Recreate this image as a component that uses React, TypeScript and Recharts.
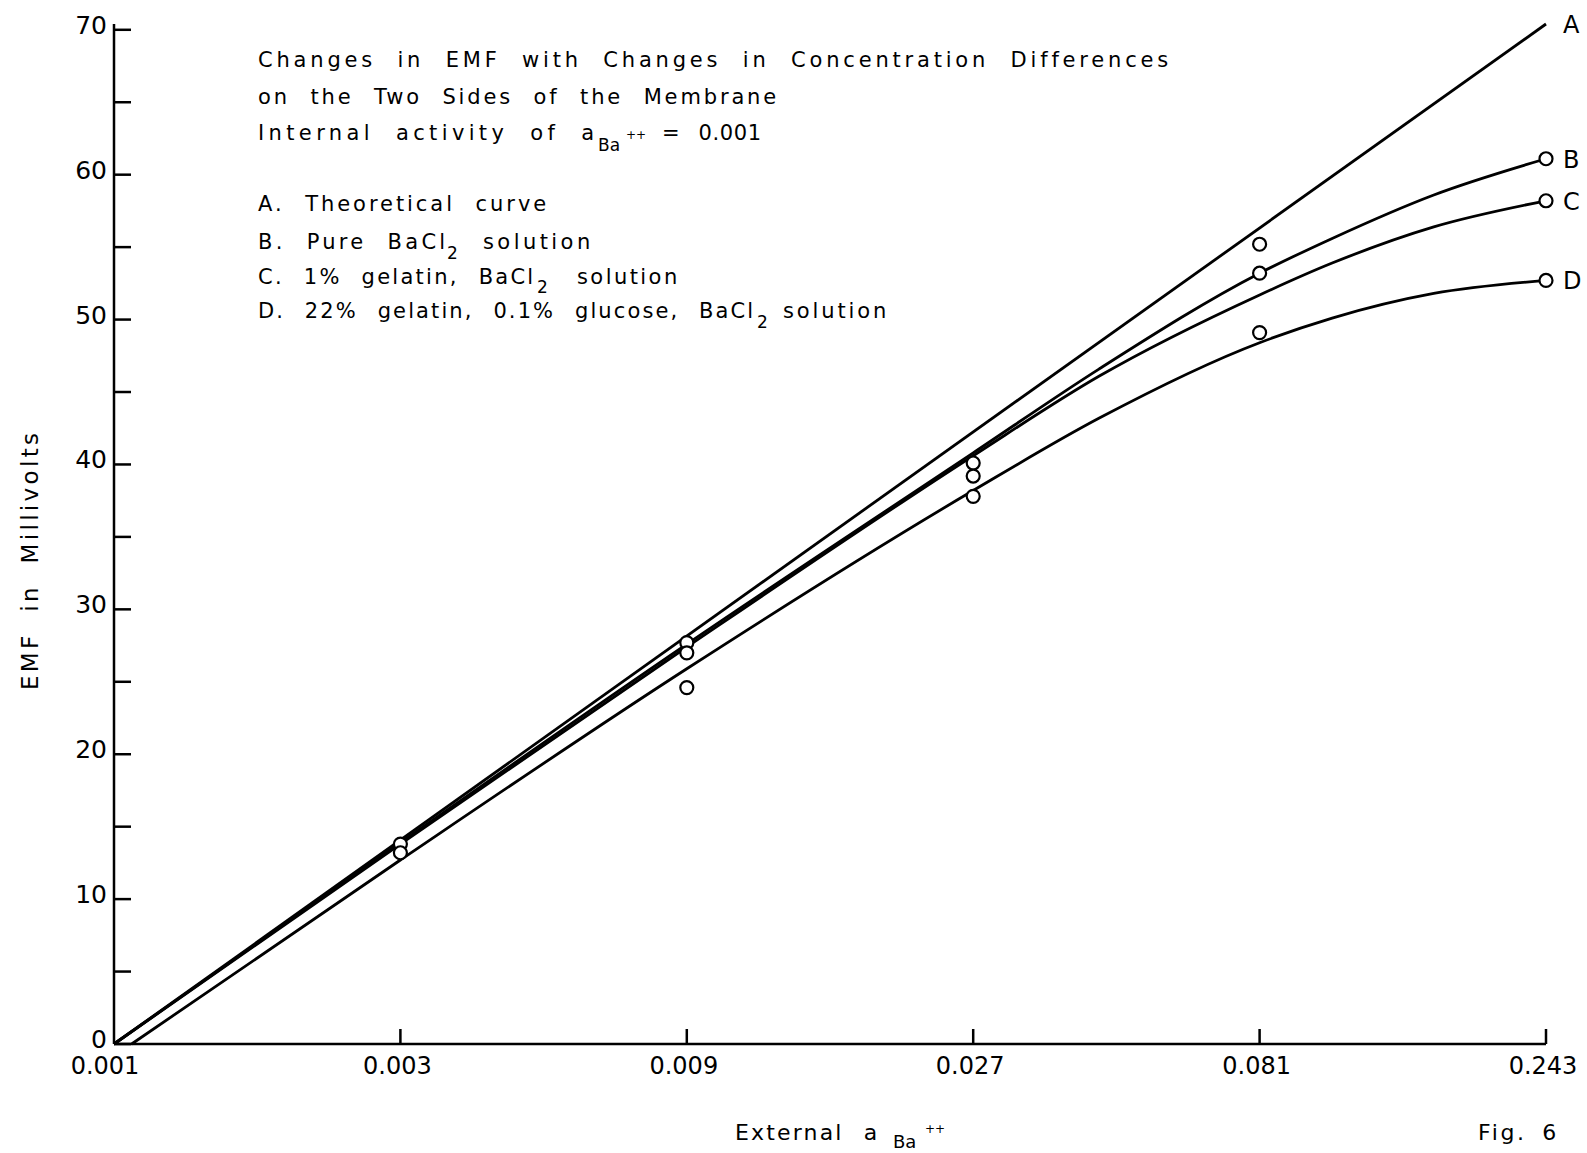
import React from 'react';
import { ComposedChart, Line, Scatter, XAxis, YAxis } from 'recharts';

// x: external activity of Ba++ (log axis), y: EMF in mV
const xTicks = [0.001, 0.003, 0.009, 0.027, 0.081, 0.243];
const yTicks = [0, 5, 10, 15, 20, 25, 30, 35, 40, 45, 50, 55, 60, 65, 70];

const curveA = [
  { x: 0.001, y: 0 },
  { x: 0.243, y: 70.4 },
];

const curveB = [
  { x: 0.001, y: 0 },
  { x: 0.003, y: 13.9 },
  { x: 0.009, y: 27.6 },
  { x: 0.027, y: 40.8 },
  { x: 0.0438, y: 46.6 },
  { x: 0.081, y: 53.2 },
  { x: 0.107, y: 55.6 },
  { x: 0.158, y: 58.6 },
  { x: 0.243, y: 61.1 },
];

const curveC = [
  { x: 0.001, y: 0 },
  { x: 0.003, y: 13.8 },
  { x: 0.009, y: 27.4 },
  { x: 0.027, y: 40.6 },
  { x: 0.0438, y: 46.1 },
  { x: 0.081, y: 51.7 },
  { x: 0.107, y: 53.9 },
  { x: 0.158, y: 56.4 },
  { x: 0.243, y: 58.2 },
];

const curveD = [
  { x: 0.00107, y: 0 },
  { x: 0.003, y: 12.7 },
  { x: 0.009, y: 25.9 },
  { x: 0.027, y: 38.2 },
  { x: 0.0438, y: 43.2 },
  { x: 0.081, y: 48.4 },
  { x: 0.107, y: 50.1 },
  { x: 0.158, y: 51.8 },
  { x: 0.243, y: 52.7 },
];

// measured points (open circles)
const measured = [
  { x: 0.003, y: 13.8 },
  { x: 0.003, y: 13.2 },
  { x: 0.009, y: 27.7 },
  { x: 0.009, y: 27.0 },
  { x: 0.009, y: 24.6 },
  { x: 0.027, y: 40.1 },
  { x: 0.027, y: 39.2 },
  { x: 0.027, y: 37.8 },
  { x: 0.081, y: 55.2 },
  { x: 0.081, y: 53.2 },
  { x: 0.081, y: 49.1 },
  { x: 0.243, y: 61.1 },
  { x: 0.243, y: 58.2 },
  { x: 0.243, y: 52.7 },
];

const FONT = '"DejaVu Sans", sans-serif';
const INK = '#000';

const YTick = ({ x, y, payload }: any) => (
  <g>
    <line x1={x} x2={x + 17} y1={y} y2={y} stroke={INK} strokeWidth={2.5} />
    {payload.value % 10 === 0 && (
      <text x={x - 7} y={y + 4} textAnchor="end" fontSize={25} fontFamily={FONT} fill={INK}>
        {payload.value}
      </text>
    )}
  </g>
);

const XTick = ({ x, y, payload, index }: any) => (
  <g>
    {index > 0 && <line x1={x} x2={x} y1={y} y2={y - 15} stroke={INK} strokeWidth={2.5} />}
    <text x={index === 0 ? x - 9 : x - 3} y={y + 30} textAnchor="middle" fontSize={24} fontFamily={FONT} fill={INK}>
      {payload.value}
    </text>
  </g>
);

const endLabel = (name: string, count: number) => (p: any) =>
  p.index === count - 1 ? (
    <text x={p.x + 17} y={p.y + 9} fontSize={24} fontFamily={FONT} fill={INK}>
      {name}
    </text>
  ) : (
    <g />
  );

const OpenCircle = ({ cx, cy }: any) => (
  <circle cx={cx} cy={cy} r={6.5} fill="#fff" stroke={INK} strokeWidth={2.2} />
);

// text piece: wide word gaps like the lettering-guide original, fitted to the measured extent
const T = ({ x, y, len, size = 21, ls = 0.8, ws = 11, children }: any) => (
  <text
    x={x}
    y={y}
    textLength={len}
    lengthAdjust="spacing"
    fontSize={size}
    fontFamily={FONT}
    fill={INK}
    style={{ letterSpacing: ls, wordSpacing: ws }}
  >
    {children}
  </text>
);

const S = ({ x, y, size = 15, children }: any) => (
  <text x={x} y={y} fontSize={size} fontFamily={FONT} fill={INK}>
    {children}
  </text>
);

const Annotations = () => (
  <svg width={1587} height={1153} style={{ position: 'absolute', left: 0, top: 0, pointerEvents: 'none' }}>
    {/* title block */}
    <T x={258} y={67} len={911}>Changes in EMF with Changes in Concentration Differences</T>
    <T x={258} y={104} len={519}>on the Two Sides of the Membrane</T>
    <T x={258} y={140} len={337}>Internal activity of a</T>
    <S x={598} y={151} size={17}>Ba</S>
    <S x={626} y={139} size={12}>++</S>
    <T x={662} y={140} len={100}>= 0.001</T>

    {/* legend */}
    <T x={258} y={211} len={289}>A. Theoretical curve</T>
    <T x={258} y={249} len={188}>B. Pure BaCl</T>
    <S x={447} y={259} size={17}>2</S>
    <T x={483} y={249} len={108}>solution</T>
    <T x={258} y={284} len={276}>C. 1% gelatin, BaCl</T>
    <S x={537} y={293} size={17}>2</S>
    <T x={577} y={284} len={101}>solution</T>
    <T x={258} y={318} len={496}>D. 22% gelatin, 0.1% glucose, BaCl</T>
    <S x={757} y={328} size={17}>2</S>
    <T x={783} y={318} len={104}>solution</T>

    {/* axis titles */}
    <text
      transform="translate(38 690) rotate(-90)"
      textLength={257}
      lengthAdjust="spacing"
      fontSize={23}
      fontFamily={FONT}
      fill={INK}
      style={{ wordSpacing: 10 }}
    >
      EMF in Millivolts
    </text>
    <T x={735} y={1140} len={143} size={22}>External a</T>
    <S x={893} y={1148} size={18}>Ba</S>
    <S x={925} y={1133} size={12}>++</S>
    <T x={1478} y={1140} len={79} size={22} ws={6}>Fig. 6</T>
  </svg>
);

const App: React.FC = () => {
  return (
    <div style={{ position: 'absolute', left: 0, top: 0, width: 1587, height: 1153, background: '#fff', overflow: 'hidden' }}>
      <ComposedChart width={1587} height={1153} margin={{ top: 24, right: 41, bottom: 69, left: 54 }}>
        <XAxis
          dataKey="x"
          type="number"
          scale="log"
          domain={[0.001, 0.243]}
          ticks={xTicks}
          interval={0}
          height={40}
          tickSize={0}
          tickMargin={0}
          tickLine={false}
          axisLine={{ stroke: INK, strokeWidth: 2.5 }}
          tick={<XTick />}
        />
        <YAxis
          dataKey="y"
          type="number"
          domain={[0, 70]}
          ticks={yTicks}
          interval={0}
          width={60}
          tickSize={0}
          tickMargin={0}
          tickLine={false}
          axisLine={{ stroke: INK, strokeWidth: 2.5 }}
          tick={<YTick />}
        />
        <Line data={curveA} dataKey="y" type="linear" stroke={INK} strokeWidth={2.8} dot={false} activeDot={false} isAnimationActive={false} label={endLabel('A', curveA.length)} />
        <Line data={curveB} dataKey="y" type="monotone" stroke={INK} strokeWidth={2.8} dot={false} activeDot={false} isAnimationActive={false} label={endLabel('B', curveB.length)} />
        <Line data={curveC} dataKey="y" type="monotone" stroke={INK} strokeWidth={2.8} dot={false} activeDot={false} isAnimationActive={false} label={endLabel('C', curveC.length)} />
        <Line data={curveD} dataKey="y" type="monotone" stroke={INK} strokeWidth={2.8} dot={false} activeDot={false} isAnimationActive={false} label={endLabel('D', curveD.length)} />
        <Scatter data={measured} dataKey="y" shape={<OpenCircle />} isAnimationActive={false} />
      </ComposedChart>
      <Annotations />
    </div>
  );
};

export default App;
